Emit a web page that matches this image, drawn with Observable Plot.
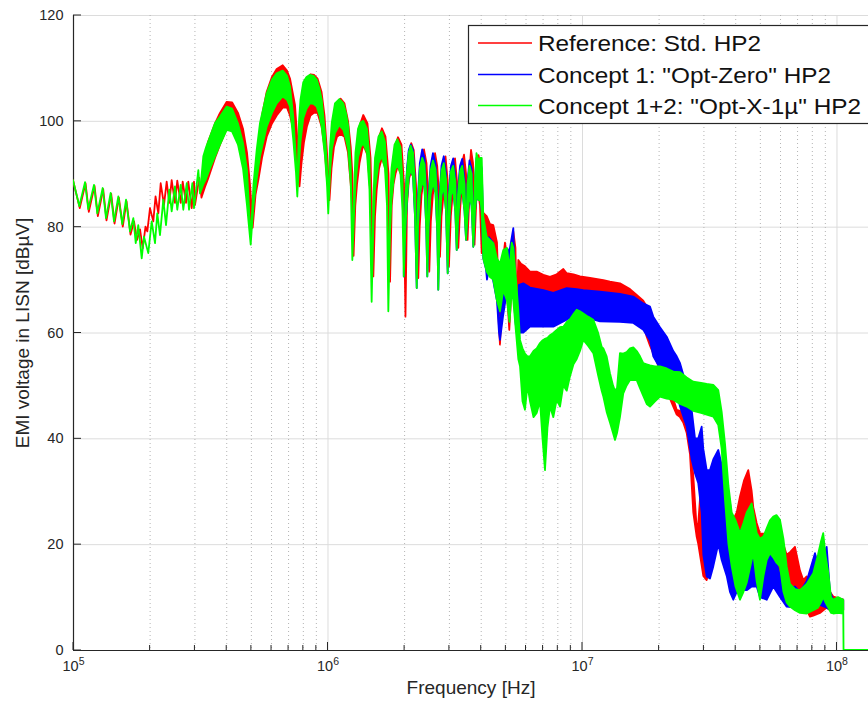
<!DOCTYPE html>
<html><head><meta charset="utf-8">
<script src="https://cdn.jsdelivr.net/npm/d3@7"></script>
<script src="https://cdn.jsdelivr.net/npm/@observablehq/plot@0.6"></script>
<style>
body{margin:0;background:#fff;}
#chart{position:relative;width:868px;height:708px;overflow:hidden;}
</style></head><body><div id="chart"></div>
<script>
// ---------- labels / ticks ----------
const seriesNames = ["Reference: Std. HP2", "Concept 1: \"Opt-Zero\" HP2", "Concept 1+2: \"Opt-X-1\u00b5\" HP2"];
const seriesColors = ["#ff0000", "#0000ff", "#00ff00"];
const yTicks = [0, 20, 40, 60, 80, 100, 120];
const xMajor = [1e5, 1e6, 1e7, 1e8];
const xMinor = [2e5,3e5,4e5,5e5,6e5,7e5,8e5,9e5,2e6,3e6,4e6,5e6,6e6,7e6,8e6,9e6,2e7,3e7,4e7,5e7,6e7,7e7,8e7,9e7];
const xTickExp = ["5", "6", "7", "8"];
const xTitle = "Frequency [Hz]";
const yTitle = "EMI voltage in LISN [dB\u00b5V]";

// ---------- series: [frequency Hz, lower envelope dBuV, upper envelope dBuV] ----------
const redSeries = [
[1.0e5,88.8,88.8],[1.063e5,83.5,83.5],[1.12e5,88.2,88.2],[1.154e5,82.8,82.8],[1.215e5,87.7,87.7],[1.252e5,82,82],[1.314e5,87.1,87.1],[1.354e5,81.2,81.2],[1.413e5,86.2,86.2],[1.456e5,80.6,80.6],[1.514e5,85.5,85.5],[1.569e5,80,80],[1.623e5,84.8,84.8],[1.683e5,78.5,78.5],[1.737e5,81,81],[1.784e5,77.5,77.5],[1.834e5,79.5,79.5],[1.879e5,75.9,75.9],[1.927e5,80,80],[1.959e5,79.1,79.1],[2.007e5,83.5,83.5],[2.068e5,81,81],[2.11e5,85.7,85.7],[2.164e5,82.5,82.5],[2.211e5,88.2,88.2],[2.278e5,84.1,84.1],[2.334e5,88.5,88.5],[2.39e5,84.5,84.5],[2.442e5,88.8,88.8],[2.516e5,84.5,84.5],[2.569e5,88.7,88.7],[2.65e5,84.5,84.5],[2.698e5,88.5,88.5],[2.78e5,84.5,84.5],[2.838e5,88.5,88.5],[2.927e5,83.5,83.5],[2.989e5,88.5,88.5],[3.016e5,84.1,84.1],[3.135e5,89.2,89.2],[3.198e5,85.5,85.5],
[3.301e5,87.5,93.5],[3.392e5,89,96],[3.614e5,93,99.5],[3.781e5,95.5,101.5],[4.018e5,98.5,103.6],[4.215e5,98.3,103.5],[4.449e5,96,101.5],[4.656e5,92,98.5],[4.827e5,86,94],[4.96e5,82,88],[5.082e5,79.8,80.5],
[5.214e5,86,90],[5.357e5,89,96],[5.529e5,93,101],[5.769e5,97,105.5],[6.052e5,99.5,108.3],[6.315e5,101,109.8],[6.668e5,102.5,110.5],[6.932e5,102.5,109.5],[7.123e5,101,108],[7.286e5,99,105.5],[7.453e5,96,103],[7.624e5,91,96],[7.762e5,87.6,88.5],
[7.904e5,92,100],[8.086e5,96,105],[8.307e5,99,108],[8.574e5,101,108.8],[8.851e5,101.5,108.7],[9.136e5,101.5,108],[9.472e5,99,105.5],[9.732e5,95,101],[9.954e5,89,94],[1.018e6,85,86],
[1.037e6,91,97],[1.06e6,95,101],[1.09e6,97,103.5],[1.125e6,97.5,104.2],[1.166e6,97,103.3],[1.204e6,94,100],[1.234e6,88,95],[1.252e6,84,90],[1.266e6,74.5,75.5],
[1.286e6,84,88],[1.306e6,88,94],[1.336e6,92,99],[1.382e6,95.5,101.1],[1.436e6,93.5,99.5],[1.476e6,86,93],[1.514e6,70.6,72],
[1.537e6,82,86],[1.561e6,87,92],[1.594e6,91,97],[1.637e6,93,98.6],[1.69e6,91,97],[1.737e6,83,90],[1.761e6,69.6,71],
[1.788e6,84,89],[1.817e6,88,93],[1.85e6,90,95.5],[1.892e6,91.5,96.9],[1.953e6,89.5,95.5],[1.998e6,82,88],[2.025e6,63,64.5],
[2.053e6,84,88],[2.09e6,89,93.5],[2.133e6,90.5,95.8],[2.182e6,89,94.5],[2.227e6,80,88],[2.274e6,70.3,71.5],
[2.303e6,80,85],[2.341e6,86,91.5],[2.394e6,89,94.6],[2.449e6,86,92],[2.487e6,80,86],[2.512e6,71.5,73],
[2.547e6,81,86],[2.594e6,86,91.5],[2.646e6,88.5,93.9],[2.698e6,86,91.5],[2.743e6,80,86],[2.767e6,74.3,75.5],
[2.805e6,82,86],[2.857e6,86,91],[2.909e6,88,93.3],[2.962e6,84,89],[3.0e6,72.5,74],
[3.052e6,82,86],[3.113e6,87,91],[3.17e6,88,92.9],[3.227e6,84,88.5],[3.266e6,76,77],
[3.317e6,83,87],[3.377e6,88,92],[3.439e6,89,93.6],[3.503e6,84,90],[3.55e6,77.5,78.5],
[3.597e6,84,89],[3.664e6,89,94.5],[3.731e6,86,92],[3.782e6,76.6,77.5],
[3.843e6,85,90],[3.921e6,86,93.5],[3.974e6,84,92],[4.036e6,75,76],
[4.095e6,76,82.6],[4.222e6,74,82],[4.35e6,72,80.5],[4.482e6,71,80.3],[4.634e6,68,77],[4.762e6,57.7,59],[4.849e6,66,72],[4.982e6,70,77],[5.097e6,66,74],[5.18e6,60.5,62],[5.284e6,68,75],[5.372e6,70,79.1],[5.477e6,68,76],[5.537e6,62,64],[5.62e6,66,73.7],[5.759e6,66,73],[5.97e6,65,72.5],[6.248e6,66,71.5],[6.637e6,66,71.5],[7.047e6,66,70.9],[7.486e6,66,70.5],[7.955e6,66,71],[8.446e6,66.5,72],[8.71e6,66.5,71.2],[9.26e6,66.5,71],[9.82e6,66.5,70.6],[1.075e7,66,70.3],[1.213e7,66,69.9],[1.288e7,66,69.6],[1.41e7,65.5,69.3],[1.544e7,64.5,68.2],[1.641e7,63.5,67.1],[1.741e7,61.5,66],[1.796e7,59.2,64.9],[1.85e7,57.5,63.5],[1.906e7,56,61.8],[1.966e7,54.5,58.5],[2.025e7,52.9,54.8],[2.152e7,49.5,51],[2.217e7,47.5,48.6],[2.284e7,46,47.5],[2.356e7,44.5,45.4],[2.428e7,44,45.2],[2.5e7,43,45],[2.579e7,41,43],[2.657e7,37,39.7],[2.737e7,26,33],[2.823e7,21.4,23],[2.864e7,20,24],[2.953e7,16,33],[2.997e7,14,35.3],[3.09e7,13.2,33],[3.184e7,16,30],[3.28e7,18,33],[3.383e7,20,36.5],[3.485e7,22,33],[3.591e7,20,28.4],[3.704e7,18,27],[3.875e7,17,24],[4.055e7,20,26],[4.177e7,20,29],[4.33e7,22,32],[4.502e7,22,34],[4.643e7,18,30],[4.71e7,15.8,27],[4.857e7,14,24],[5.005e7,14,22],[5.317e7,15,22],[5.645e7,16,24.6],[5.998e7,13,22],[6.372e7,10,18],[6.566e7,9.5,18.5],[6.869e7,9,19.5],[7.187e7,8,15],[7.406e7,7.5,13.2],[7.636e7,7.5,13.9],[7.868e7,6.3,11],[8.106e7,6.5,10],[8.61e7,7,11],[9.151e7,8,14.5],[9.43e7,7.5,11],[9.714e7,7.5,10.1],[1.063e8,7.5,9.5]
];

const blueSeries = [
[1.994e6,70.6,71.5],[2.025e6,80,86],[2.053e6,85,91],[2.086e6,89.5,94.5],[2.123e6,90.7,95.5],[2.168e6,89.5,94.5],[2.207e6,82,88.5],[2.242e6,68.4,70],
[2.268e6,80,86],[2.306e6,86,92],[2.356e6,88.5,94.6],[2.405e6,87.5,93],[2.443e6,80,87],[2.467e6,70.6,72],
[2.496e6,80,86],[2.54e6,86,91.5],[2.597e6,88.3,93.9],[2.657e6,86.5,92],[2.70e6,79,86],[2.725e6,68.1,69.5],
[2.757e6,80,86],[2.805e6,86,91.5],[2.864e6,87.5,93.3],[2.922e6,83,90],[2.967e6,71.2,72.5],
[3.0e6,80,87],[3.057e6,86,91.5],[3.118e6,87,92.9],[3.178e6,83,89.5],[3.219e6,75.6,76.5],
[3.257e6,81,87],[3.317e6,86,91.5],[3.383e6,87,92.8],[3.454e6,83,89],[3.503e6,77.5,78.5],
[3.55e6,82,88.5],[3.614e6,86,92.5],[3.683e6,84,91],[3.741e6,76.2,77.5],
[3.798e6,83,89],[3.85e6,86,93],[3.921e6,85,92],[3.992e6,85,92],[4.036e6,83,91],[4.095e6,74,80],
[4.196e6,72,79],[4.233e6,70,71],[4.311e6,72,78],[4.47e6,70,77],[4.634e6,66,73],[4.719e6,60,63],[4.762e6,58.6,60],[4.893e6,63,70],[5.074e6,68,75],[5.213e6,70,76],[5.372e6,68,79.7],[5.477e6,62,66],[5.537e6,60,61],[5.654e6,60,69],[5.882e6,60,69.3],[6.248e6,61.1,68.5],[7.047e6,61.1,68],[7.716e6,61.1,67.5],[8.71e6,62.4,68.4],[9.533e6,63.6,68.2],[1.012e7,63,68],[1.177e7,62.1,67.7],[1.41e7,62,67.3],[1.591e7,61.8,66.8],[1.741e7,60.5,65.5],[1.85e7,58.5,64.9],[1.906e7,55.5,63],[2.025e7,53.3,61],[2.152e7,51,59.2],[2.284e7,50,56.5],[2.356e7,48.6,55.5],[2.428e7,46,54.2],[2.579e7,42.2,49.8],[2.698e7,36,45.4],[2.78e7,33.4,40],[2.864e7,31.5,40],[2.953e7,26,42.2],[2.997e7,18,38],[3.09e7,13.9,34],[3.184e7,13.5,34],[3.28e7,15.8,36],[3.432e7,20,37.8],[3.539e7,17,35],[3.704e7,14,30.9],[3.815e7,11,28],[3.931e7,9.5,21],[4.055e7,11,20],[4.177e7,12,22.7],[4.311e7,11.3,19],[4.438e7,11.3,16],[4.643e7,12,17],[4.857e7,12,18.3],[5.005e7,10,16],[5.317e7,9.5,17],[5.645e7,12,18.9],[5.998e7,10,14],[6.372e7,8.2,11.3],[6.869e7,8,12],[7.187e7,8,11],[7.636e7,8,13],[8.232e7,8.5,18.3],[8.61e7,8.5,15],[9.151e7,8,19.5],[9.43e7,7.6,11],[9.714e7,7.6,9.5],[1.063e8,7.6,9.5]
];

const greenSeries = [
[1.0e5,88.8,88.8],[1.059e5,83.9,83.9],[1.115e5,88.4,88.4],[1.148e5,83.3,83.3],[1.209e5,87.9,87.9],[1.246e5,82.5,82.5],[1.308e5,87.3,87.3],[1.348e5,81.6,81.6],[1.406e5,86.4,86.4],[1.449e5,81.0,81.0],[1.507e5,85.7,85.7],[1.562e5,80.5,80.5],[1.616e5,85.1,85.1],[1.675e5,79.1,79.1],[1.726e5,81.6,81.6],[1.764e5,76.9,76.9],[1.805e5,80.3,80.3],[1.862e5,74.0,74.0],[1.901e5,78.1,78.1],[1.976e5,75.0,75.0],[2.038e5,81.0,81.0],[2.10e5,76.9,76.9],[2.144e5,82.5,82.5],[2.197e5,78.4,78.4],[2.264e5,85.1,85.1],[2.32e5,80.3,80.3],[2.39e5,87.0,87.0],[2.442e5,82.9,82.9],[2.516e5,87.6,87.6],[2.569e5,83.2,83.2],[2.65e5,87.9,87.9],[2.713e5,83.2,83.2],[2.798e5,88.2,88.2],[2.857e5,83.2,83.2],[2.944e5,88.2,88.2],[2.989e5,83.5,83.5],[3.108e5,90.7,90.7],[3.155e5,86.3,86.3],
[3.251e5,88.0,93.3],[3.332e5,89,95],[3.453e5,91,97],[3.614e5,93.3,99.6],[3.781e5,95.5,100.8],[4.018e5,98.3,102.7],[4.215e5,98,102.3],[4.449e5,95.5,99.5],[4.656e5,91,95.8],[4.827e5,84,90.7],[4.991e5,76.6,77.5],
[5.119e5,84,88],[5.27e5,89,94.5],[5.43e5,93.3,99.6],[5.769e5,98.9,105.2],[6.052e5,101.5,107.8],[6.315e5,103.3,109],[6.668e5,104.6,109.5],[6.932e5,104,108.5],[7.123e5,102.7,106.5],[7.338e5,96.4,100.8],[7.52e5,90.2,92.6],[7.609e5,85.7,86.5],
[7.727e5,92,100],[7.832e5,96,104],[8.033e5,100.5,107.3],[8.27e5,102.3,108.3],[8.535e5,103.3,108.7],[8.81e5,103.2,108.5],[9.07e5,102.7,107.8],[9.303e5,101,106],[9.489e5,98.9,104],[9.777e5,93.3,97.7],[9.954e5,88,91],[1.007e6,82.5,83.5],
[1.023e6,90,95],[1.039e6,94.5,99.6],[1.07e6,97.7,103.3],[1.113e6,99.2,104.1],[1.154e6,98.3,103.3],[1.182e6,96.5,101.5],[1.207e6,94.5,98.9],[1.234e6,88.2,91.4],[1.252e6,73.7,75],
[1.271e6,82,86],[1.288e6,88,94],[1.318e6,93,98.5],[1.348e6,95,99.7],[1.382e6,95.8,100],[1.429e6,94,98.5],[1.462e6,87,93],[1.491e6,65.8,67],
[1.514e6,80,85],[1.537e6,87,93],[1.586e6,92,97],[1.633e6,93.3,98],[1.682e6,91,96],[1.713e6,84,90],[1.734e6,64,65.5],
[1.761e6,79,84],[1.784e6,85,91],[1.834e6,90.5,95.5],[1.881e6,91.7,96.5],[1.936e6,90,95],[1.971e6,83,89],[1.994e6,70.6,72],
[2.025e6,80,86],[2.053e6,85,90.5],[2.086e6,89.5,94],[2.123e6,90.7,95.3],[2.168e6,89.5,94],[2.207e6,82,88],[2.242e6,68.4,70],
[2.268e6,80,85],[2.306e6,86,91],[2.356e6,88.5,93],[2.405e6,87.5,91.8],[2.443e6,80,86],[2.467e6,70.6,72],
[2.496e6,80,85],[2.54e6,86,90.5],[2.597e6,88.3,92.5],[2.657e6,86.5,90.8],[2.70e6,79,85],[2.725e6,68.1,69.5],
[2.757e6,80,85],[2.805e6,86,90.5],[2.864e6,87.5,92],[2.922e6,83,89],[2.967e6,71.2,72.5],
[3.0e6,80,86],[3.057e6,86,90.5],[3.118e6,87,91.5],[3.178e6,83,88.5],[3.219e6,75.6,76.5],
[3.257e6,81,86],[3.317e6,86,90.5],[3.383e6,87,91.5],[3.454e6,83,88],[3.503e6,77.5,78.5],
[3.55e6,82,88],[3.614e6,86,91.5],[3.683e6,84,90],[3.741e6,76.2,77.5],
[3.798e6,83,89],[3.85e6,86,93.9],[3.921e6,85,92.5],[3.992e6,85,93],[4.036e6,83,93],[4.095e6,74,81.9],
[4.222e6,71.5,78.1],[4.35e6,70.5,77.5],[4.482e6,70,76.9],[4.634e6,66,74],[4.762e6,64,73],[4.907e6,68,75.6],[5.074e6,66,76],[5.19e6,62,72],[5.294e6,68,77],[5.372e6,66,76],[5.505e6,60,70],[5.62e6,55,64.3],[5.708e6,53.6,58.6],[5.838e6,47,57],[5.97e6,45.4,56],[6.107e6,50,55.5],[6.248e6,47,55.5],[6.448e6,44,56.5],[6.637e6,44.8,57],[6.839e6,47,58],[6.996e6,40,58.5],[7.155e6,34,58.8],[7.318e6,42,59],[7.486e6,46,59.5],[7.716e6,44,59.9],[7.955e6,47.3,60.5],[8.197e6,46,61],[8.446e6,50,61.1],[8.71e6,49,62],[8.97e6,51.7,62.5],[9.26e6,54,63.5],[9.533e6,55,64.3],[9.82e6,56.5,64],[1.012e7,58.6,63.6],[1.056e7,57.5,63],[1.108e7,56.1,62.4],[1.156e7,52,60],[1.195e7,49,57.3],[1.213e7,47.9,57],[1.25e7,45,55.5],[1.288e7,43,52.3],[1.324e7,41,50],[1.348e7,39.7,49],[1.373e7,41,49.5],[1.41e7,44,56.1],[1.453e7,48.5,56],[1.498e7,50,56.3],[1.544e7,51,57],[1.591e7,51,57.2],[1.641e7,51,56.5],[1.69e7,49.5,55.5],[1.741e7,48,54.2],[1.796e7,46.5,54],[1.85e7,46,53.8],[1.936e7,47,53.6],[2.025e7,47.9,53.6],[2.152e7,47.5,53.2],[2.284e7,47.3,52.6],[2.428e7,46.5,52.5],[2.579e7,46,51.5],[2.737e7,45.2,50.7],[2.936e7,44.8,50.5],[3.09e7,44.5,50.3],[3.28e7,44.1,50.1],[3.432e7,42.5,49.1],[3.539e7,38,45],[3.647e7,28.4,39],[3.763e7,20,31],[3.875e7,15.8,26],[4.011e7,12,24.5],[4.177e7,9.5,22.1],[4.311e7,11,24],[4.438e7,12.7,26],[4.643e7,17,27.7],[4.71e7,18.3,26],[4.857e7,13,22.1],[5.005e7,9.5,21],[5.167e7,14,21.5],[5.317e7,17,23],[5.479e7,18.3,24.5],[5.645e7,17.5,25.2],[5.81e7,16.5,25.5],[5.998e7,15.8,24.6],[6.189e7,11,21],[6.372e7,9,15.8],[6.566e7,8.2,12.5],[6.869e7,7.5,11.5],[7.187e7,7,11.3],[7.636e7,6.9,12.5],[8.106e7,7.5,14.5],[8.458e7,8,18],[8.69e7,9,20.5],[8.87e7,10,22.1],[9.05e7,9,18],[9.285e7,8,14.6],[9.515e7,7,10],[9.714e7,6.9,9.5],[1.014e8,7,10],[1.063e8,6.9,9.5],[1.066e8,0,0],[1.4e8,0,0]
];

// ---------- build ----------
const toRows = s => s.map(([f, lo, hi]) => ({f, lo, hi}));
const allSeries = [redSeries, blueSeries, greenSeries].map(toRows);
const FONT = '"Liberation Sans", Arial, Helvetica, sans-serif';
const AX = "#262626";

const dataMarks = allSeries.map((rows, i) =>
  Plot.areaY(rows, {x: "f", y1: "lo", y2: "hi", fill: seriesColors[i], stroke: seriesColors[i],
    strokeWidth: 1.8, strokeLinejoin: "round", clip: true}));

const chart = Plot.plot({
  width: 868, height: 708,
  marginLeft: 73, marginRight: 0, marginTop: 15, marginBottom: 58,
  style: {fontFamily: FONT, fontSize: "14px", color: AX, background: "#fff", overflow: "visible"},
  x: {type: "log", domain: [1e5, 1.33e8]},
  y: {domain: [0, 120]},
  marks: [
    Plot.ruleY(yTicks.slice(1), {stroke: "#dcdcdc", strokeWidth: 1}),
    Plot.ruleX(xMinor, {stroke: "#b4b4b4", strokeWidth: 1, strokeDasharray: "1,3"}),
    Plot.ruleX(xMajor.slice(1), {stroke: "#dcdcdc", strokeWidth: 1}),
    Plot.ruleX([xMajor[0]], {stroke: AX, strokeWidth: 1.2}),
    Plot.ruleY([yTicks[0]], {stroke: AX, strokeWidth: 1.2}),
    ...dataMarks,
    Plot.axisY(yTicks, {tickSize: 0, tickPadding: 10, label: null, fontSize: 14.5, fill: AX}),
    Plot.axisX(xMajor, {tickSize: 0, tickPadding: 10, label: null, fontSize: 14.5, fill: AX,
      tickFormat: d => "10^" + xTickExp[xMajor.indexOf(d)]}),
    Plot.text([xTitle], {frameAnchor: "bottom", textAnchor: "middle", dy: 43, fontSize: 19, fill: AX}),
    Plot.text([yTitle], {frameAnchor: "left", textAnchor: "middle", rotate: -90, dx: -51, fontSize: 19, fill: AX})
  ]
});
document.getElementById("chart").appendChild(chart);

// ---------- post: superscripts, inward ticks, legend ----------
const svg = d3.select(chart);
svg.selectAll('g[aria-label="x-axis tick label"] text').each(function() {
  const t = this.textContent;
  if (!t.includes("^")) return;
  const [base, exp] = t.split("^");
  const el = d3.select(this);
  el.text(null);
  el.append("tspan").text(base);
  el.append("tspan").attr("dy", "-0.55em").attr("font-size", "10.5px").text(exp);
});

const sx = chart.scale("x"), sy = chart.scale("y");
const tk = svg.append("g").attr("stroke", AX).attr("stroke-width", 1);
const x0 = sx.apply(xMajor[0]), y0 = sy.apply(yTicks[0]);
yTicks.forEach(v => { const y = sy.apply(v); tk.append("line").attr("x1", x0).attr("x2", x0 + 8).attr("y1", y).attr("y2", y); });
xMajor.forEach(v => { const x = sx.apply(v); tk.append("line").attr("x1", x).attr("x2", x).attr("y1", y0).attr("y2", y0 - 8); });
xMinor.forEach(v => { const x = sx.apply(v); tk.append("line").attr("x1", x).attr("x2", x).attr("y1", y0).attr("y2", y0 - 5); });

const lg = svg.append("g").attr("font-family", FONT).attr("text-anchor", "start");
lg.append("rect").attr("x", 468.5).attr("y", 25.5).attr("width", 430).attr("height", 98)
  .attr("fill", "#fff").attr("stroke", AX).attr("stroke-width", 1.2);
const rowY = [43, 74.5, 105.5];
const textW = [223, 293, 323];
seriesNames.forEach((name, i) => {
  lg.append("line").attr("x1", 478).attr("x2", 532).attr("y1", rowY[i]).attr("y2", rowY[i])
    .attr("stroke", seriesColors[i]).attr("stroke-width", 1.5);
  lg.append("text").attr("x", 538).attr("y", rowY[i] + 8).attr("font-size", 22).attr("fill", "#111")
    .attr("text-anchor", "start")
    .attr("textLength", textW[i]).attr("lengthAdjust", "spacingAndGlyphs").text(name);
});
</script>
</body></html>
